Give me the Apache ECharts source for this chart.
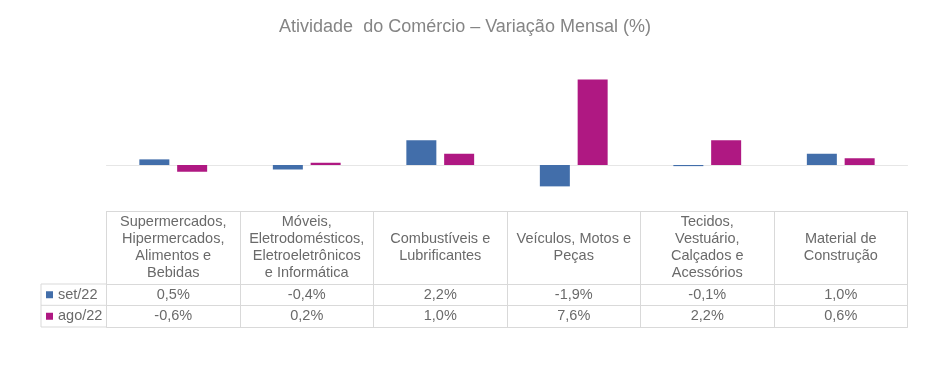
<!DOCTYPE html>
<html><head><meta charset="utf-8">
<script src="https://cdn.jsdelivr.net/npm/echarts@6/dist/echarts.min.js"></script>
<style>html,body{margin:0;padding:0;background:#fff}#c{width:930px;height:365px}</style>
</head><body><div id="c"></div>
<script>
// ---- data ----
const chartTitle = 'Atividade  do Comércio – Variação Mensal (%)';
const categories = [
  'Supermercados,\nHipermercados,\nAlimentos e\nBebidas',
  'Móveis,\nEletrodomésticos,\nEletroeletrônicos\ne Informática',
  'Combustíveis e\nLubrificantes',
  'Veículos, Motos e\nPeças',
  'Tecidos,\nVestuário,\nCalçados e\nAcessórios',
  'Material de\nConstrução'
];
const seriesNames = ['set/22', 'ago/22'];
const set22 = [0.5, -0.4, 2.2, -1.9, -0.1, 1.0];
const ago22 = [-0.6, 0.2, 1.0, 7.6, 2.2, 0.6];
const yMin = -4, yMax = 8;

// ---- styles ----
const FONT = '"Liberation Sans", Arial, sans-serif';
const BORDER = '#D9D9D9';
const TXT = '#6A6A6A';
const BLUE = '#426EAA';
const MAGENTA = '#AF1882';
const fmt = v => v.toFixed(1).replace('.', ',') + '%';

const chart = echarts.init(document.getElementById('c'));
const baseX = { type: 'category', data: categories, gridIndex: 0, position: 'bottom' };
const rowAxis = (offset, values) => Object.assign({}, baseX, {
  offset: offset,
  axisLine: { show: true, onZero: false, lineStyle: { color: BORDER, width: 1 } },
  axisTick: { show: false },
  axisLabel: values ? {
    show: true, interval: 0, margin: 10.7, verticalAlign: 'middle',
    fontSize: 14.5, color: TXT, fontFamily: FONT,
    formatter: (v, i) => fmt(values[i])
  } : { show: false },
  splitLine: { show: false }
});

chart.setOption({
  animation: false,
  backgroundColor: '#ffffff',
  textStyle: { fontFamily: FONT },
  title: {
    text: chartTitle, left: 'center', top: 13,
    textStyle: { fontSize: 18, fontWeight: 'normal', color: '#858585', fontFamily: FONT }
  },
  legend: {
    orient: 'vertical', left: 46, top: 284, itemWidth: 7, itemHeight: 7, itemGap: 0,
    icon: 'rect', selectedMode: false, padding: 0,
    textStyle: { fontSize: 14.5, color: TXT, lineHeight: 21.5, fontFamily: FONT },
    data: seriesNames
  },
  grid: { left: 106.5, right: 22.5, top: 75, bottom: 155, containLabel: false },
  yAxis: {
    type: 'value', min: yMin, max: yMax, interval: 2,
    axisLine: { show: false }, axisTick: { show: false },
    axisLabel: { show: false }, splitLine: { show: false }
  },
  xAxis: [
    Object.assign({}, baseX, {
      axisLine: { show: true, onZero: true, lineStyle: { color: '#E6E6E6', width: 1 } },
      axisTick: { show: false }, axisLabel: { show: false }, splitLine: { show: false }
    }),
    Object.assign({}, baseX, {
      offset: 1,
      axisLine: { show: true, onZero: false, lineStyle: { color: BORDER, width: 1 } },
      axisTick: { show: true, interval: 0, length: 116, lineStyle: { color: BORDER, width: 1 } },
      axisLabel: {
        show: true, interval: 0, margin: 36.5, verticalAlign: 'middle',
        fontSize: 14.5, lineHeight: 16.7, color: TXT, fontFamily: FONT
      },
      splitLine: { show: false }
    }),
    rowAxis(74, set22),
    rowAxis(95.3, ago22),
    rowAxis(117, null)
  ],
  graphic: [
    { type: 'line', shape: { x1: 41, y1: 284, x2: 41, y2: 327 }, style: { stroke: BORDER, lineWidth: 1 } },
    { type: 'line', shape: { x1: 41, y1: 284, x2: 106.5, y2: 284 }, style: { stroke: BORDER, lineWidth: 1 } },
    { type: 'line', shape: { x1: 41, y1: 305.3, x2: 106.5, y2: 305.3 }, style: { stroke: BORDER, lineWidth: 1 } },
    { type: 'line', shape: { x1: 41, y1: 327, x2: 106.5, y2: 327 }, style: { stroke: BORDER, lineWidth: 1 } }
  ],
  series: [
    { name: seriesNames[0], type: 'bar', xAxisIndex: 0, yAxisIndex: 0, data: set22,
      barWidth: 30, barGap: '26%', itemStyle: { color: BLUE } },
    { name: seriesNames[1], type: 'bar', xAxisIndex: 0, yAxisIndex: 0, data: ago22,
      barWidth: 30, barGap: '26%', itemStyle: { color: MAGENTA } }
  ]
});
</script>
</body></html>
